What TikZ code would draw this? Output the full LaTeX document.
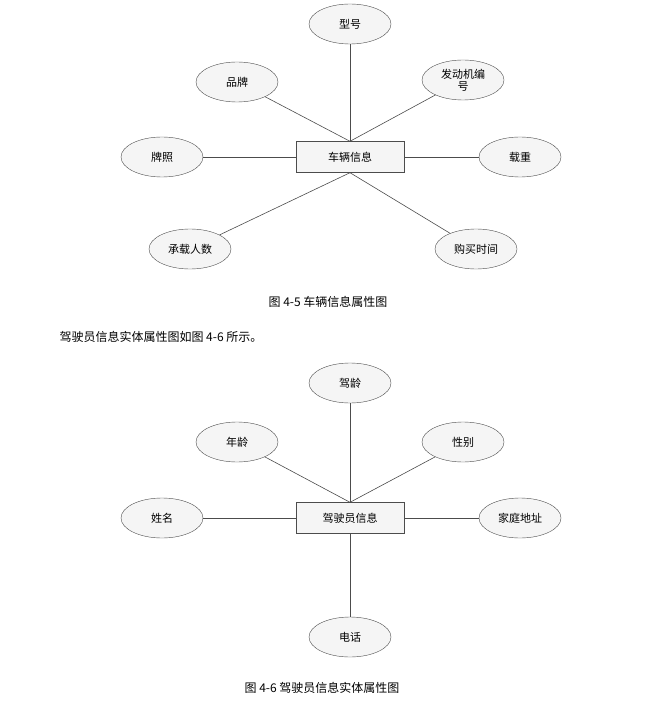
\documentclass[tikz,border=0pt]{standalone}
\usepackage{fontspec}
\setmainfont{Noto Sans CJK SC}
\usetikzlibrary{shapes.geometric}
\begin{document}
\begin{tikzpicture}[x=1pt,y=-1pt,
  attr/.style={ellipse,draw=black!70,fill=black!4,minimum width=82pt,minimum height=40pt,inner sep=1pt,font=\fontsize{11}{12}\selectfont,align=center},
  ent/.style={rectangle,draw=black!70,fill=black!4,minimum width=108pt,minimum height=31pt,font=\fontsize{11}{12}\selectfont},
  ln/.style={draw=black!70,line width=0.6pt},
  txt/.style={font=\fontsize{12}{14}\selectfont}]
\useasboundingbox (0,0) rectangle (655,727);
\node[ent] (car) at (350,157) {车辆信息};
\node[attr] (xh) at (350,24) {型号};
\node[attr] (pp) at (237,82) {品牌};
\node[attr] (fdj) at (463,80) {发动机编\\号};
\node[attr] (pz) at (162,157) {牌照};
\node[attr] (zz) at (520,157) {载重};
\node[attr] (cz) at (190,249) {承载人数};
\node[attr] (gm) at (476,249) {购买时间};
\draw[ln] (car.north) -- (xh);
\draw[ln] (car.north) -- (pp);
\draw[ln] (car.north) -- (fdj);
\draw[ln] (car.west) -- (pz);
\draw[ln] (car.east) -- (zz);
\draw[ln] (car.south) -- (cz);
\draw[ln] (car.south) -- (gm);
\node[txt] (cap1) at (328,302) {图 4-5 车辆信息属性图};
\node[txt,anchor=west] (p1) at (56,337) {驾驶员信息实体属性图如图 4-6 所示。};
\node[ent] (drv) at (350,518) {驾驶员信息};
\node[attr] (jl) at (350,383) {驾龄};
\node[attr] (nl) at (237,442) {年龄};
\node[attr] (xb) at (463,442) {性别};
\node[attr] (xm) at (162,518) {姓名};
\node[attr] (jt) at (520,518) {家庭地址};
\node[attr] (dh) at (350,637) {电话};
\draw[ln] (drv.north) -- (jl);
\draw[ln] (drv.north) -- (nl);
\draw[ln] (drv.north) -- (xb);
\draw[ln] (drv.west) -- (xm);
\draw[ln] (drv.east) -- (jt);
\draw[ln] (drv.south) -- (dh);
\node[txt] (cap2) at (322,688) {图 4-6 驾驶员信息实体属性图};
\end{tikzpicture}
\end{document}
